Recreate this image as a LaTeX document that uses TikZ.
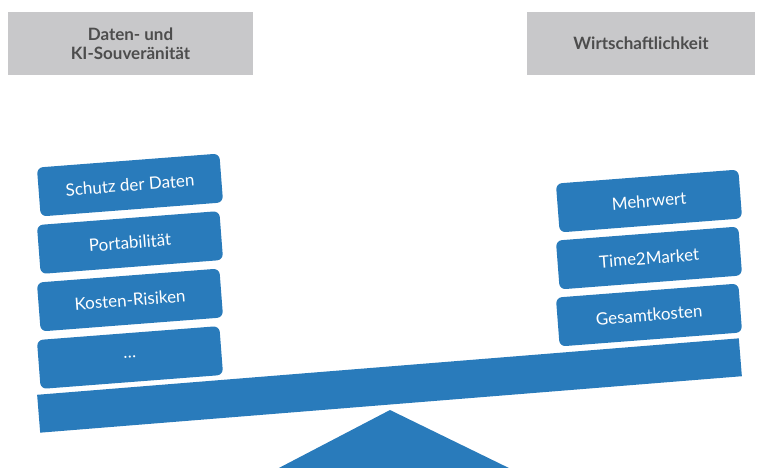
\documentclass[tikz,border=0pt]{standalone}
\usepackage{fontspec}
\setmainfont{Lato}
\usepackage{tikz}
\usetikzlibrary{positioning}
\definecolor{scaleblue}{RGB}{41,123,187}
\definecolor{headgray}{RGB}{200,200,202}
\definecolor{headtext}{RGB}{77,77,77}

\begin{document}
\begin{tikzpicture}[x=1pt,y=-1pt,
                headbox/.style={fill=headgray,minimum width=245pt,minimum height=63pt,
                    align=center,text=headtext,font=\fontsize{17}{19}\selectfont\bfseries},
                weight/.style={fill=scaleblue,rounded corners=6pt,minimum width=183pt,
                    minimum height=49pt,rotate=4.4,text=white,font=\fontsize{17}{19}\selectfont},
                beam/.style={fill=scaleblue,minimum width=704pt,minimum height=38pt,
                    inner sep=0pt,rotate=4.6}
            ]
            \useasboundingbox (0,0) rectangle (763,467);
            % headings
            \node[headbox] (sovereign) at (130.5,43.5) {Daten- und\\KI-Souveränität};
            \node[headbox,minimum width=228pt] (economy) at (641,43.5) {Wirtschaftlichkeit};
            % beam and pivot
            \node[beam] (beam) at (389.5,385.5) {};
            \coordinate (apex) at (390,410);
            \fill[scaleblue] (apex) -- (513,470) -- (275,470) -- cycle;
            % left pan
            \foreach \lbl/\name [count=\i] in {Schutz der Daten/protect,Portabilität/port,
                    Kosten-Risiken/risk,\dots/more} {
                \node[weight] (\name) at (130,{127.5+57.5*\i}) {\lbl};
            }
            % right pan
            \foreach \lbl/\name [count=\i] in {Mehrwert/value,Time2Market/ttm,Gesamtkosten/tco} {
                \node[weight] (\name) at (649,{144+57*\i}) {\lbl};
            }
        \end{tikzpicture}
\end{document}
